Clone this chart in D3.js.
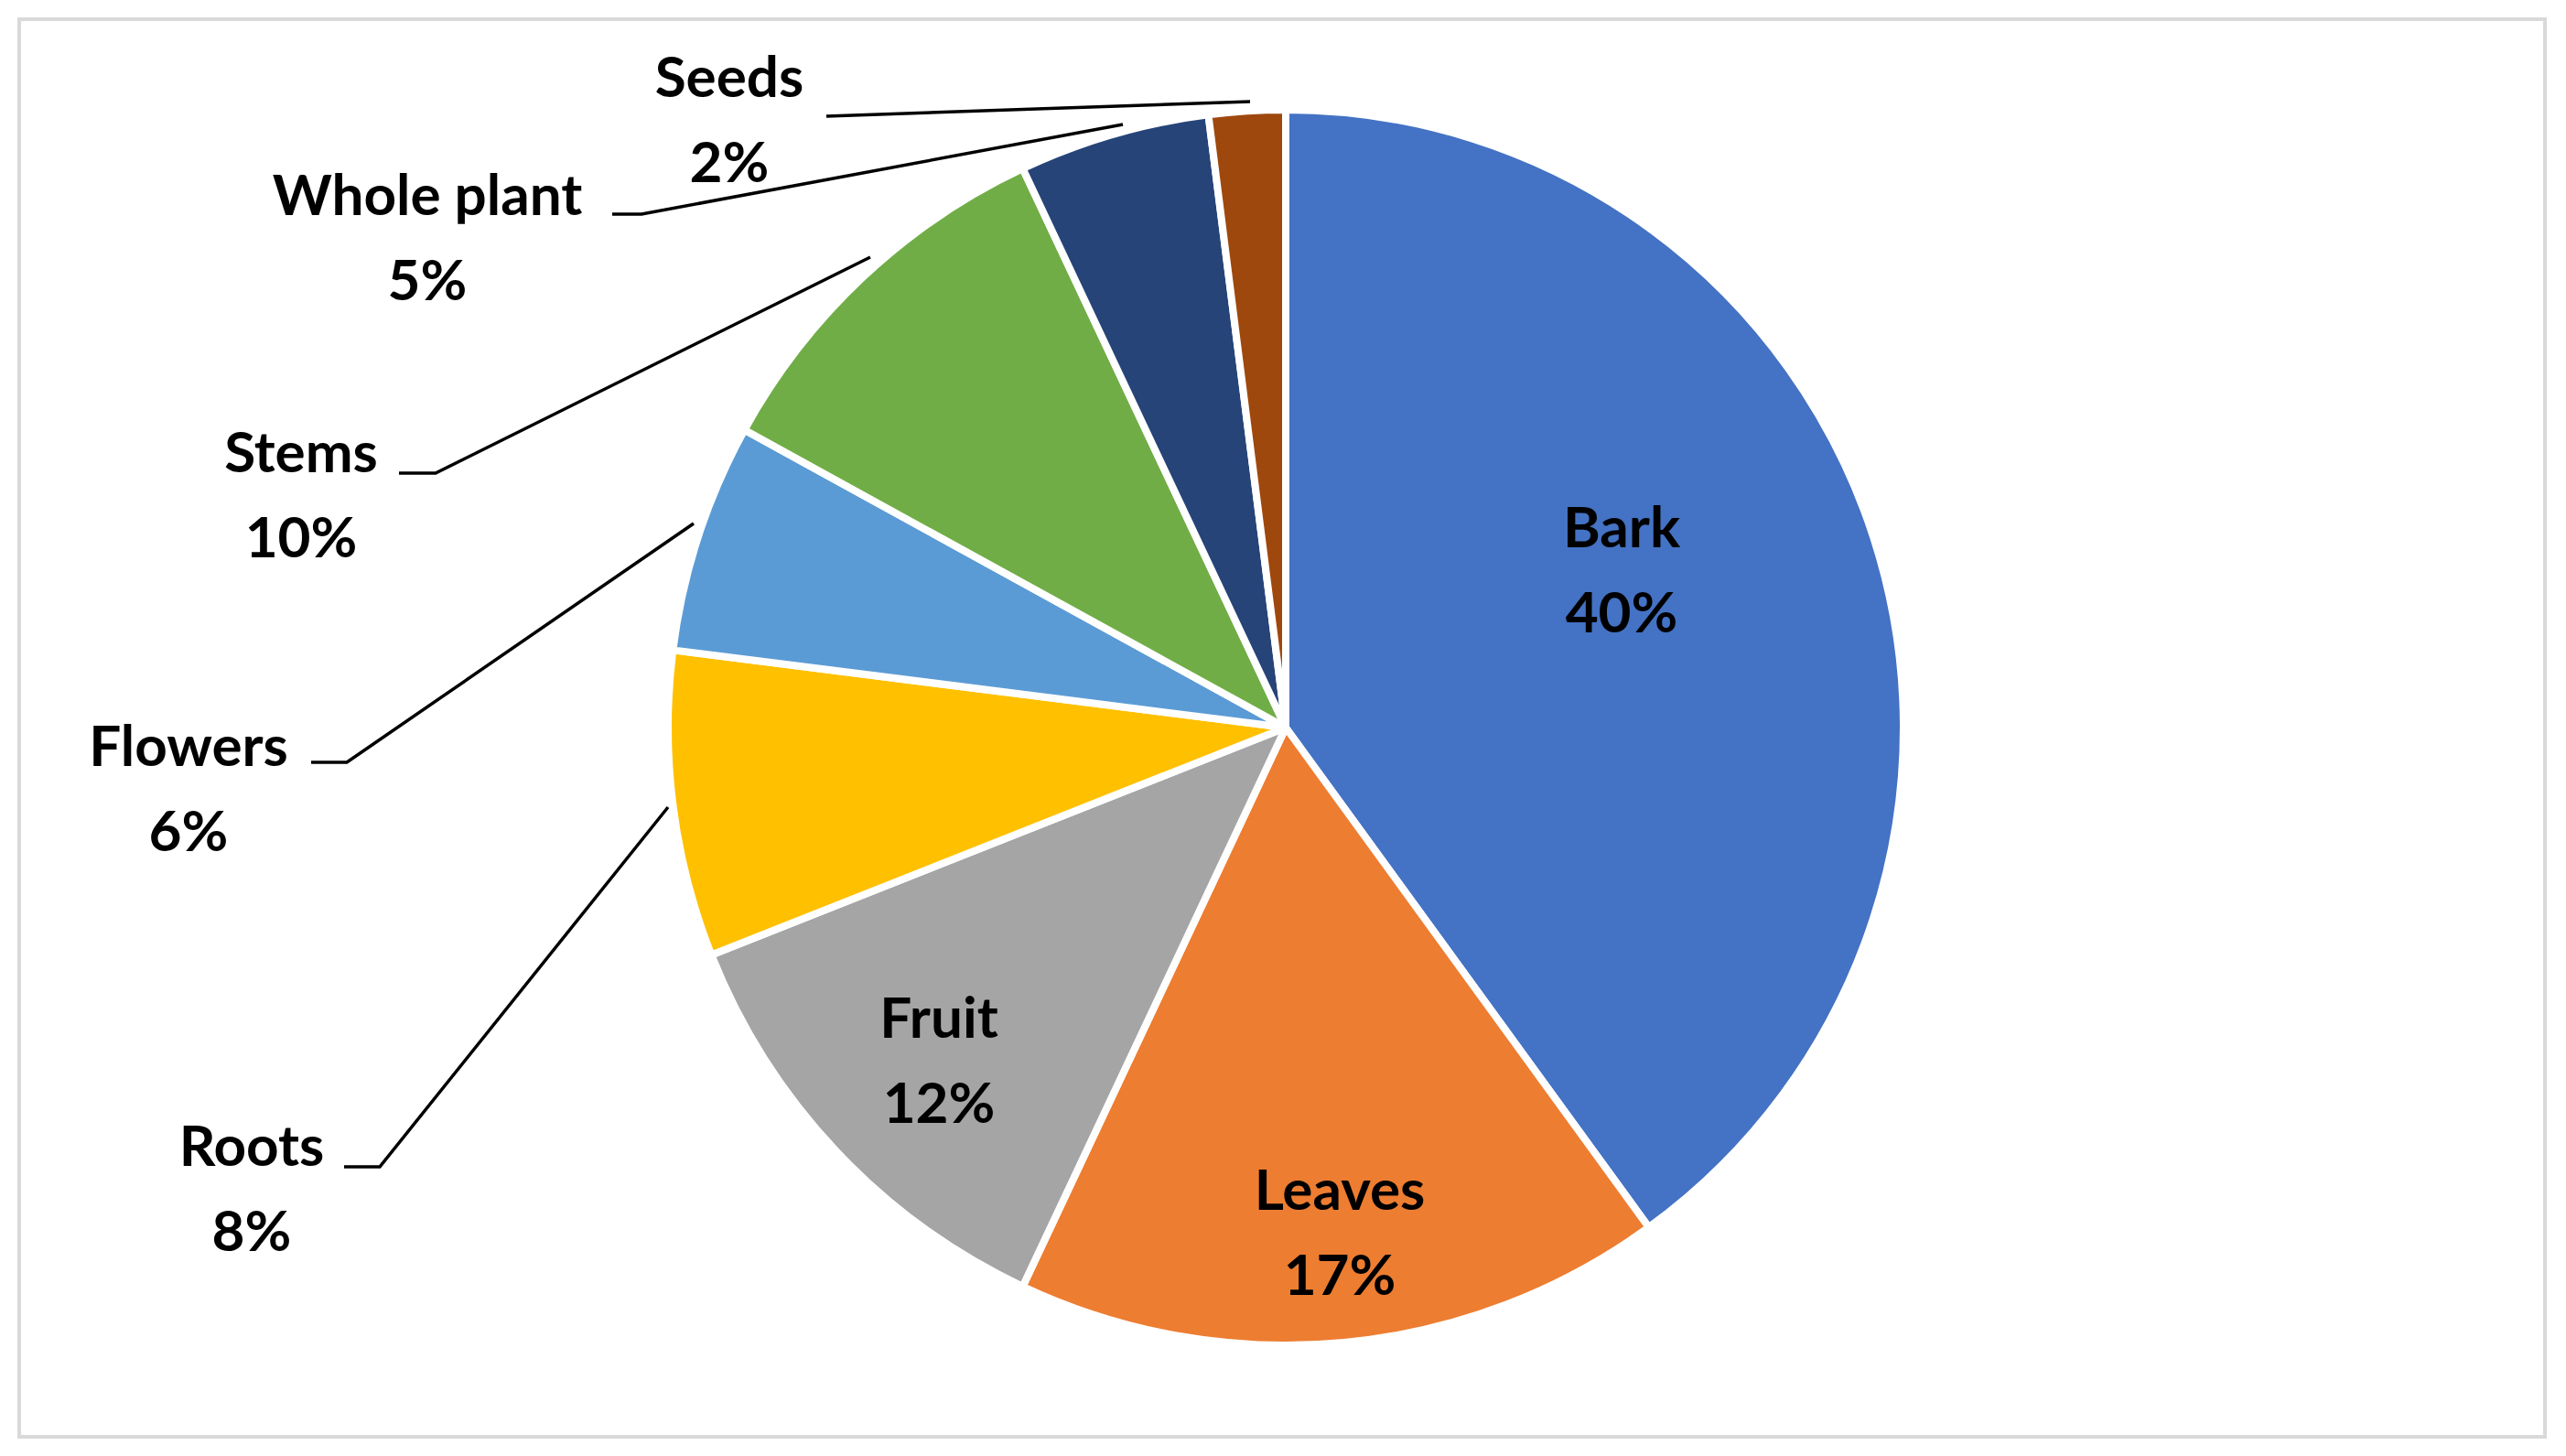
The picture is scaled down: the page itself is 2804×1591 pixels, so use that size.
<!DOCTYPE html>
<html><head><meta charset="utf-8">
<script src="https://cdn.jsdelivr.net/npm/d3@7"></script>
<style>body{margin:0;background:#fff}</style></head>
<body><svg id="c" width="2804" height="1591"></svg>
<script>
const categories = ["Bark","Leaves","Fruit","Roots","Flowers","Stems","Whole plant","Seeds"];
const values = [40,17,12,8,6,10,5,2];
const colors = ["#4472C4","#ED7D31","#A5A5A5","#FFC000","#5B9BD5","#70AD47","#264478","#9E480E"];

// label layout (positions, not data)
const labelPos = [
  {x:1772,y:576,inside:true},
  {x:1464,y:1300,inside:true},
  {x:1026,y:1112,inside:true},
  {x:275,y:1252,line:[[376,1275],[415,1275],[730,882]]},
  {x:206,y:815,line:[[340,833],[379,833],[758,572]]},
  {x:329,y:494,line:[[436,517],[476,517],[951,281]]},
  {x:467,y:213,line:[[669,234],[701,234],[1227,136]]},
  {x:797,y:84,line:[[903,127],[1366,111]]}
];

const svg = d3.select("#c");
svg.append("rect").attr("x",21).attr("y",21).attr("width",2760).attr("height",1549)
  .attr("fill","#fff").attr("stroke","#d9d9d9").attr("stroke-width",4);

const cx=1405, cy=795, r=675;
const pie = d3.pie().sort(null).value(d=>d)(values);
const arc = d3.arc().innerRadius(0).outerRadius(r);
const g = svg.append("g").attr("transform",`translate(${cx},${cy})`);
g.selectAll("path").data(pie).join("path")
  .attr("d",arc).attr("fill",(d,i)=>colors[i])
  .attr("stroke","#fff").attr("stroke-width",8).attr("stroke-linejoin","round");

const line = d3.line();
labelPos.forEach((p,i)=>{
  if(p.line) svg.append("path").attr("d",line(p.line)).attr("fill","none")
    .attr("stroke","#000").attr("stroke-width",3.5);
  const t = svg.append("text").attr("text-anchor","middle")
    .attr("font-family","Lato, 'Open Sans', sans-serif").attr("font-weight",700)
    .attr("font-size",62).attr("fill","#000");
  t.append("tspan").attr("x",p.x).attr("y",p.y+22).text(categories[i]);
  t.append("tspan").attr("x",p.x).attr("y",p.y+115).text(values[i]+"%");
});
</script></body></html>
